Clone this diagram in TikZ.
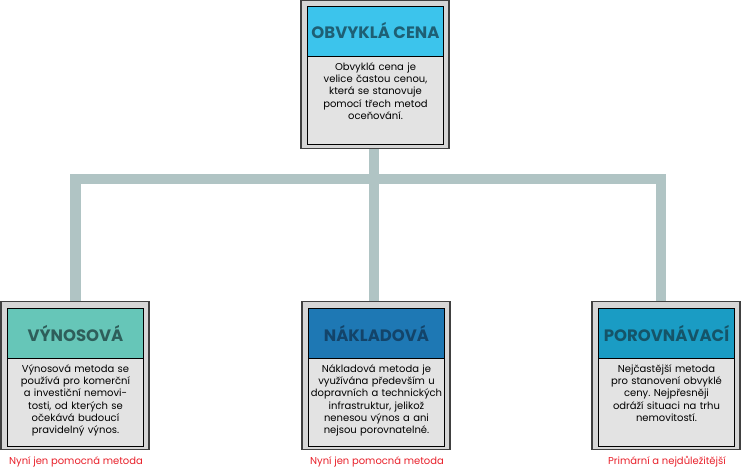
\documentclass[tikz,border=0pt]{standalone}
\usepackage{fontspec}
\setmainfont{Poppins}
\frenchspacing
\definecolor{linkgray}{HTML}{B0C4C4}
\definecolor{cardgray}{HTML}{D6D6D6}
\definecolor{bodygray}{HTML}{E3E3E3}
\definecolor{notered}{HTML}{E8202A}
\definecolor{obvfill}{HTML}{3CC4EC}
\definecolor{obvtext}{HTML}{1E5F74}
\definecolor{vynfill}{HTML}{66C6B8}
\definecolor{vyntext}{HTML}{2E5E5A}
\definecolor{nakfill}{HTML}{1E78B4}
\definecolor{naktext}{HTML}{13446A}
\definecolor{porfill}{HTML}{1A9CC4}
\definecolor{portext}{HTML}{155468}
\begin{document}
\begin{tikzpicture}[x=1pt, y=-1pt,
  card/.style={draw=black!75, line width=1.2pt, fill=cardgray, minimum width=148pt, minimum height=148pt, inner sep=0pt},
  cardin/.style={draw=black, line width=0.9pt, fill=bodygray, minimum width=136pt, minimum height=138pt, inner sep=0pt},
  cardhead/.style={draw=black, line width=0.9pt, minimum width=136pt, minimum height=50pt, inner sep=0pt, font=\bfseries\fontsize{16.5}{19}\selectfont},
  cardtext/.style={text width=142pt, align=center, inner sep=0pt, font=\fontsize{10}{12.2}\selectfont},
  note/.style={text=notered, inner sep=0pt, font=\fontsize{10}{12}\selectfont},
  link/.style={draw=linkgray, line width=10.5pt}]
\useasboundingbox (0,0) rectangle (741,469);
% connectors
\coordinate (hub) at (374,179);
\coordinate (rdrop) at (661,301);
\draw[link] (75.5,301) |- (hub) -| (rdrop);
\draw[link] (374,148) -- (374,301);
% top card
\node[card] (top) at (375,74.5) {};
\node[cardin] (topin) at (375.5,75) {};
\node[cardhead, fill=obvfill, text=obvtext, anchor=north] (tophead) at (topin.north) {OBVYKLÁ CENA};
\node[cardtext, anchor=north] (toptext) at ([yshift=-6pt]tophead.south) {Obvyklá cena je\\velice častou cenou,\\která se stanovuje\\pomocí třech metod\\oceňování.};
% method cards
\foreach \x/\n/\col/\head/\body/\note in {
  75/vyn/vyn/{VÝNOSOVÁ}/{Výnosová metoda se\\používá pro komerční\\a investiční nemovi-\\tosti, od kterých se\\očekává budoucí\\pravidelný výnos.}/{Nyní jen pomocná metoda},
  376/nak/nak/{NÁKLADOVÁ}/{Nákladová metoda je\\využívána především u\\dopravních a technických\\infrastruktur, jelikož\\nenesou výnos a ani\\nejsou porovnatelné.}/{Nyní jen pomocná metoda},
  666/por/por/{POROVNÁVACÍ}/{Nejčastější metoda\\pro stanovení obvyklé\\ceny. Nejpřesněji\\odráží situaci na trhu\\nemovitostí.}/{Primární a nejdůležitější}} {
  \node[card] (\n) at (\x,375.5) {};
  \node[cardin] (\n in) at (\x+0.5,377) {};
  \node[cardhead, fill=\col fill, text=\col text, anchor=north] (\n head) at (\n in.north) {\head};
  \node[cardtext, anchor=north] (\n text) at ([yshift=-6pt]\n head.south) {\body};
  \node[note] (\n note) at (\x+1,462) {\note};
}
\end{tikzpicture}
\end{document}
